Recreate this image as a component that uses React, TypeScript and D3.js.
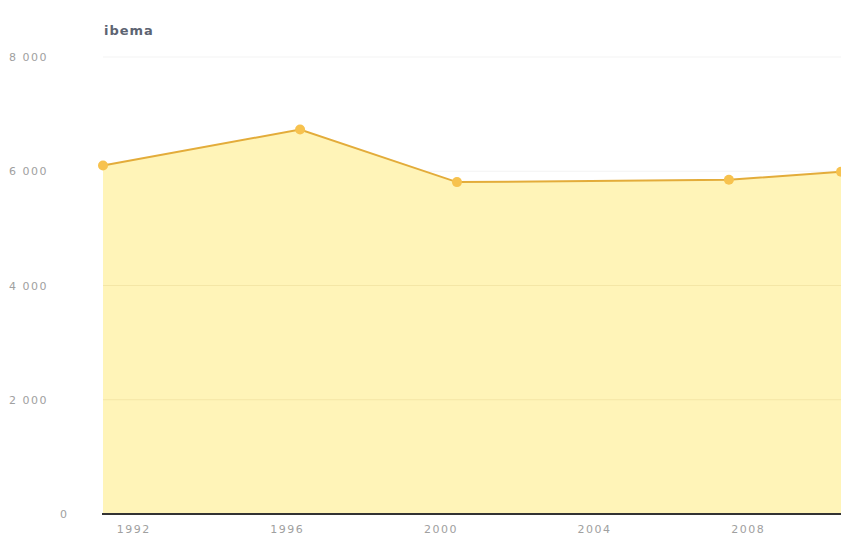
import React, { useEffect, useRef } from "react";
import * as d3 from "d3";

const W = 841, H = 542;

// observations (date of measurement, value)
const dates = ["1991-03-15", "1996-05-01", "2000-06-01", "2007-07-01", "2010-06-01"];
const values = [6100, 6730, 5810, 5850, 5990];
const yTicks = [0, 2000, 4000, 6000, 8000];
const xTickYears = [1992, 1996, 2000, 2004, 2008];
const title = "Ibema";

export default function App() {
  const ref = useRef<SVGSVGElement>(null);

  useEffect(() => {
    const svg = d3.select(ref.current);
    svg.selectAll("*").remove();

    const margin = { top: 57, right: 0, bottom: 28, left: 103 };
    const data = dates.map((d, i) => ({ date: new Date(d), value: values[i] }));

    const x = d3.scaleTime()
      .domain(d3.extent(data, d => d.date) as [Date, Date])
      .range([margin.left, W - margin.right]);
    const y = d3.scaleLinear().domain([0, 8000]).range([H - margin.bottom, margin.top]);

    const fmt = (v: number) => d3.format(",")(v).replace(",", " ");

    // grid
    svg.append("g").selectAll("line")
      .data(yTicks.filter(t => t > 0))
      .join("line")
      .attr("x1", margin.left).attr("x2", W)
      .attr("y1", d => y(d)).attr("y2", d => y(d))
      .attr("stroke", "#f3f3f3").attr("stroke-width", 1);

    const area = d3.area<any>()
      .x(d => x(d.date)).y0(y(0)).y1(d => y(d.value));
    const line = d3.line<any>().x(d => x(d.date)).y(d => y(d.value));

    svg.append("path").datum(data).attr("d", area).attr("fill", "#fff4b8");

    // faint grid visible through fill
    svg.append("g").selectAll("line")
      .data(yTicks.filter(t => t > 0 && t < 6000))
      .join("line")
      .attr("x1", margin.left).attr("x2", W)
      .attr("y1", d => y(d)).attr("y2", d => y(d))
      .attr("stroke", "#f4e6a6").attr("stroke-width", 1);

    svg.append("path").datum(data).attr("d", line)
      .attr("fill", "none").attr("stroke", "#e3ac3a").attr("stroke-width", 2);

    svg.append("g").selectAll("circle").data(data).join("circle")
      .attr("cx", d => x(d.date)).attr("cy", d => y(d.value)).attr("r", 5)
      .attr("fill", "#f7c24e");

    // x axis baseline
    svg.append("line")
      .attr("x1", margin.left - 1).attr("x2", W)
      .attr("y1", y(0)).attr("y2", y(0))
      .attr("stroke", "#333").attr("stroke-width", 2);

    // y labels
    svg.append("g").selectAll("text").data(yTicks).join("text")
      .attr("x", d => (d === 0 ? 60 : 9))
      .attr("y", d => y(d) + 4)
      .attr("font-family", "DejaVu Sans, sans-serif")
      .attr("font-size", 11)
      .attr("letter-spacing", 1.5)
      .attr("fill", "#a0a0a0")
      .text(d => fmt(d));

    // x labels
    svg.append("g").selectAll("text").data(xTickYears).join("text")
      .attr("x", d => x(new Date(d, 0, 1)))
      .attr("y", H - 9)
      .attr("text-anchor", "middle")
      .attr("font-family", "DejaVu Sans, sans-serif")
      .attr("font-size", 11)
      .attr("letter-spacing", 1.5)
      .attr("fill", "#a0a0a0")
      .text(d => d);

    svg.append("text")
      .attr("x", 104).attr("y", 35)
      .attr("font-family", "DejaVu Sans, sans-serif")
      .attr("font-size", 13)
      .attr("font-weight", "bold")
      .attr("letter-spacing", 1)
      .attr("fill", "#5d6472")
      .text(title.toLowerCase());
  }, []);

  return (
    <svg ref={ref} width={W} height={H}
      style={{ position: "absolute", left: 0, top: 0, background: "#fff" }} />
  );
}
